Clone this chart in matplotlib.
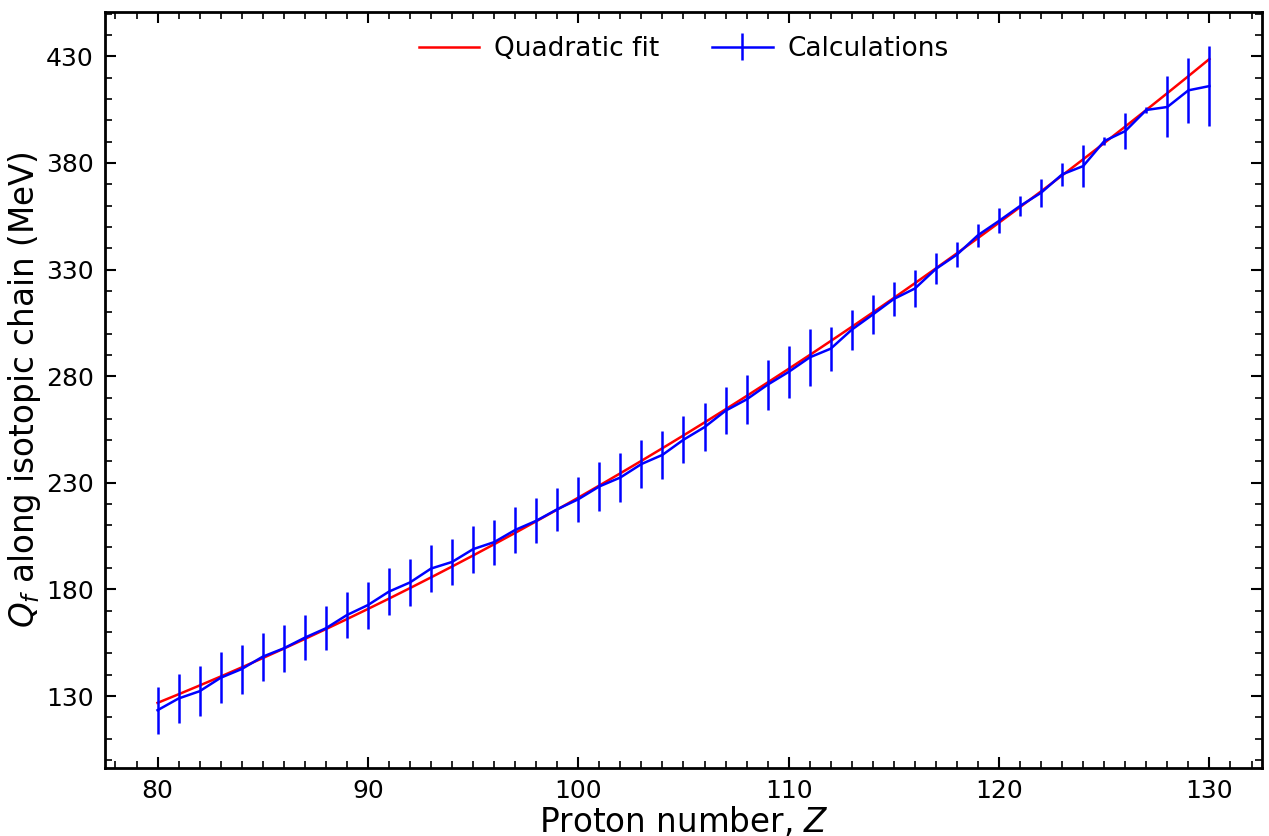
import matplotlib
matplotlib.use("Agg")
import matplotlib.pyplot as plt
import numpy as np
from matplotlib.ticker import AutoMinorLocator, MultipleLocator

# proton numbers along the chain
z_values = list(range(80, 131))

# calculated Q_f (MeV) and uncertainties
q_calc = [
    123.4, 128.9, 132.3, 138.6, 142.7, 148.5, 152.4, 157.4, 161.8, 168.0,
    172.7, 179.0, 183.3, 189.8, 192.9, 198.9, 202.2, 207.9, 212.2, 217.6,
    222.3, 228.3, 232.5, 238.8, 243.1, 250.2, 256.1, 263.8, 269.1, 276.0,
    282.0, 288.8, 292.9, 301.8, 308.9, 316.2, 321.1, 330.3, 337.0, 346.1,
    352.8, 359.8, 366.0, 374.6, 378.5, 390.2, 394.9, 404.8, 406.2, 414.0,
    416.0,
]
q_err = [
    11.0, 11.3, 11.6, 12.0, 11.5, 11.3, 11.0, 10.5, 10.4, 10.7,
    11.0, 11.2, 11.2, 11.1, 10.8, 11.0, 10.6, 10.6, 10.6, 10.2,
    10.6, 11.3, 11.3, 11.1, 11.3, 11.1, 11.1, 11.1, 11.3, 11.8,
    12.0, 13.3, 10.3, 9.3, 9.0, 8.0, 8.6, 7.3, 5.9, 5.4,
    5.9, 4.9, 6.6, 5.5, 9.9, 2.0, 8.5, 1.3, 14.3, 15.1,
    18.6,
]

plt.rcParams.update({
    "font.family": "DejaVu Sans",
    "xtick.direction": "in",
    "ytick.direction": "in",
    "xtick.top": True,
    "ytick.right": True,
})

z = np.array(z_values)
q = np.array(q_calc)
err = np.array(q_err)

coeffs = np.polyfit(z, q, 2, w=1.0 / err)
q_fit = np.polyval(coeffs, z)

fig = plt.figure(figsize=(12.69, 8.36), dpi=100)
ax = fig.add_axes([0.0827, 0.0813, 0.9118, 0.9043])

ax.plot(z, q_fit, color="red", linewidth=1.8, label="Quadratic fit")
ax.errorbar(z, q, yerr=err, color="blue", linewidth=1.8, elinewidth=1.8,
            label="Calculations")

ax.set_xticks(np.arange(80, 131, 10))
ax.set_yticks(np.arange(130, 431, 50))
ax.xaxis.set_minor_locator(MultipleLocator(1))
ax.yaxis.set_minor_locator(AutoMinorLocator(5))
ax.tick_params(which="major", length=8, width=1.5, labelsize=18, pad=8)
ax.tick_params(which="minor", length=5, width=1.2)
for s in ax.spines.values():
    s.set_linewidth(2)

ax.set_xlabel("Proton number, $Z$", fontsize=23.5, labelpad=1)
ax.set_ylabel("$Q_f$ along isotopic chain (MeV)", fontsize=23.5, labelpad=2)
ax.legend(loc="upper center", ncol=2, frameon=False, fontsize=19,
          handlelength=2.3, handletextpad=0.55, columnspacing=2.0)

fig.savefig("out.png", dpi=100)
